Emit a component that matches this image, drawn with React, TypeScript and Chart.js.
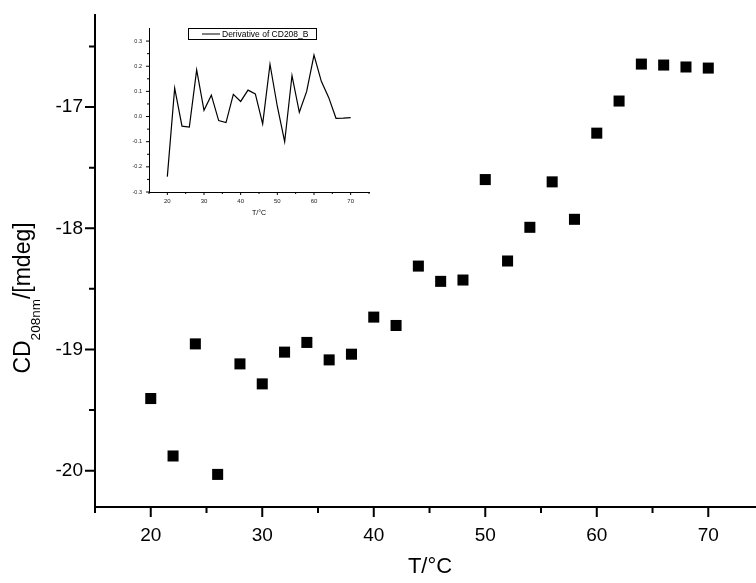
import React, { useEffect, useRef } from "react";
import { Chart, registerables } from "chart.js";

Chart.register(...registerables);

// ---------- data ----------
const TEMPS = [20, 22, 24, 26, 28, 30, 32, 34, 36, 38, 40, 42, 44, 46, 48, 50, 52, 54, 56, 58, 60, 62, 64, 66, 68, 70];
const CD208 = [
  -19.405, -19.879, -18.954, -20.031, -19.119, -19.284, -19.022, -18.942, -19.086, -19.039,
  -18.733, -18.802, -18.312, -18.438, -18.427, -17.598, -18.27, -17.992, -17.617, -17.926,
  -17.215, -16.95, -16.645, -16.653, -16.669, -16.678,
];
const DERIV = [
  -0.239, 0.113, -0.038, -0.042, 0.185, 0.025, 0.085, -0.016, -0.024, 0.088,
  0.06, 0.105, 0.09, -0.029, 0.208, 0.04, -0.1, 0.163, 0.017, 0.1,
  0.244, 0.14, 0.076, -0.007, -0.006, -0.004,
];
const DERIV_LABEL = "Derivative of CD208_B";

const MAIN_X_TICKS = [20, 30, 40, 50, 60, 70];
const MAIN_X_MINOR = [15, 25, 35, 45, 55, 65];
const MAIN_Y_TICKS = [-20, -19, -18, -17];
const MAIN_Y_MINOR = [-19.5, -18.5, -17.5, -16.5];

const INSET_X_TICKS = [20, 30, 40, 50, 60, 70];
const INSET_X_MINOR = [15, 25, 35, 45, 55, 65, 75];
const INSET_Y_TICKS = [-0.3, -0.2, -0.1, 0, 0.1, 0.2, 0.3];
const INSET_Y_MINOR = [-0.25, -0.15, -0.05, 0.05, 0.15, 0.25];

const FONT = '"Liberation Sans", Arial, sans-serif';

function drawTicks(chart: any, xMajor: number[], xMinor: number[], yMajor: number[], yMinor: number[], majLen: number, minLen: number, width: number) {
  const { ctx, chartArea } = chart;
  const xs = chart.scales.x;
  const ys = chart.scales.y;
  ctx.save();
  ctx.strokeStyle = "#000";
  ctx.lineWidth = width;
  ctx.beginPath();
  const xl = (vals: number[], len: number) => {
    vals.forEach((v) => {
      const p = xs.getPixelForValue(v);
      if (p < chartArea.left - 1 || p > chart.width) return;
      ctx.moveTo(p, chartArea.bottom);
      ctx.lineTo(p, chartArea.bottom + len);
    });
  };
  const yl = (vals: number[], len: number) => {
    vals.forEach((v) => {
      const p = ys.getPixelForValue(v);
      if (p < chartArea.top - 1 || p > chartArea.bottom + 1) return;
      ctx.moveTo(chartArea.left, p);
      ctx.lineTo(chartArea.left - len, p);
    });
  };
  xl(xMajor, majLen);
  xl(xMinor, minLen);
  yl(yMajor, majLen);
  yl(yMinor, minLen);
  ctx.stroke();
  ctx.restore();
}

const mainDecor = {
  id: "mainDecor",
  afterDraw(chart: any) {
    drawTicks(chart, MAIN_X_TICKS, MAIN_X_MINOR, MAIN_Y_TICKS, MAIN_Y_MINOR, 10, 6, 2);
    const { ctx } = chart;
    ctx.save();
    ctx.fillStyle = "#000";
    // x title
    ctx.font = `22px ${FONT}`;
    ctx.textAlign = "center";
    ctx.textBaseline = "alphabetic";
    ctx.fillText("T/°C", 430, 573);
    // y title with subscript
    ctx.translate(30, 298);
    ctx.rotate(-Math.PI / 2);
    ctx.textAlign = "left";
    const big = `23px ${FONT}`;
    const small = `13.5px ${FONT}`;
    ctx.font = big;
    const w1 = ctx.measureText("CD").width;
    const w3 = ctx.measureText("/[mdeg]").width;
    ctx.font = small;
    const w2 = ctx.measureText("208nm").width;
    let x = -(w1 + w2 + w3) / 2;
    ctx.font = big;
    ctx.fillText("CD", x, 0);
    x += w1;
    ctx.font = small;
    ctx.fillText("208nm", x, 10);
    x += w2;
    ctx.font = big;
    ctx.fillText("/[mdeg]", x, 0);
    ctx.restore();
  },
};

const insetDecor = {
  id: "insetDecor",
  afterDraw(chart: any) {
    drawTicks(chart, INSET_X_TICKS, INSET_X_MINOR, INSET_Y_TICKS, INSET_Y_MINOR, 3, 2, 1);
    const { ctx } = chart;
    ctx.save();
    ctx.fillStyle = "#000";
    ctx.font = `7px ${FONT}`;
    ctx.textAlign = "center";
    ctx.textBaseline = "alphabetic";
    ctx.fillText("T/°C", (chart.chartArea.left + chart.chartArea.right) / 2, 205);
    // legend box
    ctx.strokeStyle = "#000";
    ctx.lineWidth = 1;
    ctx.strokeRect(88.5, 18.5, 128, 11);
    ctx.beginPath();
    ctx.moveTo(102, 24);
    ctx.lineTo(120, 24);
    ctx.stroke();
    ctx.font = `8.5px ${FONT}`;
    ctx.textAlign = "left";
    ctx.textBaseline = "middle";
    ctx.fillText(chart.data.datasets[0].label, 122, 24.5);
    ctx.restore();
  },
};

const zeroPadX = (h: number) => (s: any) => {
  s.height = h;
  s.paddingLeft = 0;
  s.paddingRight = 0;
};
const zeroPadY = (w: number) => (s: any) => {
  s.width = w;
  s.paddingTop = 0;
  s.paddingBottom = 0;
};

export default function App() {
  const mainRef = useRef<HTMLCanvasElement>(null);
  const insetRef = useRef<HTMLCanvasElement>(null);

  useEffect(() => {
    const main = new Chart(mainRef.current as HTMLCanvasElement, {
      type: "scatter",
      data: {
        datasets: [
          {
            label: "CD208",
            data: TEMPS.map((t, i) => ({ x: t, y: CD208[i] })),
            pointStyle: "rect",
            pointRadius: 7.8,
            pointHoverRadius: 7.8,
            backgroundColor: "#000",
            borderColor: "#000",
            borderWidth: 0,
            showLine: false,
          },
        ],
      },
      options: {
        responsive: false,
        animation: false,
        events: [],
        layout: { autoPadding: false, padding: { top: 15, left: 0, right: 0, bottom: 0 } },
        plugins: { legend: { display: false }, tooltip: { enabled: false } },
        scales: {
          x: {
            type: "linear",
            position: "bottom",
            min: 15,
            max: 74.28,
            grid: { display: false, drawTicks: false },
            border: { display: true, color: "#000", width: 2 },
            ticks: { color: "#000", font: { family: FONT, size: 19 }, padding: 17, maxRotation: 0 },
            afterBuildTicks: (s: any) => {
              s.ticks = MAIN_X_TICKS.map((v) => ({ value: v }));
            },
            afterFit: zeroPadX(76),
          },
          y: {
            type: "linear",
            position: "left",
            min: -20.3,
            max: -16.24,
            grid: { display: false, drawTicks: false },
            border: { display: true, color: "#000", width: 2 },
            ticks: { color: "#000", font: { family: FONT, size: 19 }, padding: 12 },
            afterBuildTicks: (s: any) => {
              s.ticks = MAIN_Y_TICKS.map((v) => ({ value: v }));
            },
            afterFit: zeroPadY(95),
          },
        },
      },
      plugins: [mainDecor],
    });

    const inset = new Chart(insetRef.current as HTMLCanvasElement, {
      type: "scatter",
      data: {
        datasets: [
          {
            label: DERIV_LABEL,
            data: TEMPS.map((t, i) => ({ x: t, y: DERIV[i] })),
            showLine: true,
            borderColor: "#000",
            borderWidth: 1.2,
            pointRadius: 0,
            pointHoverRadius: 0,
            fill: false,
            tension: 0,
          },
        ],
      },
      options: {
        responsive: false,
        animation: false,
        events: [],
        layout: { autoPadding: false, padding: { top: 18, left: 0, right: 11, bottom: 0 } },
        plugins: { legend: { display: false }, tooltip: { enabled: false } },
        scales: {
          x: {
            type: "linear",
            min: 15,
            max: 75,
            grid: { display: false, drawTicks: false },
            border: { display: true, color: "#000", width: 1 },
            ticks: { color: "#222", font: { family: FONT, size: 6 }, padding: 6, maxRotation: 0 },
            afterBuildTicks: (s: any) => {
              s.ticks = INSET_X_TICKS.map((v) => ({ value: v }));
            },
            afterFit: zeroPadX(33),
          },
          y: {
            type: "linear",
            min: -0.3,
            max: 0.352,
            grid: { display: false, drawTicks: false },
            border: { display: true, color: "#000", width: 1 },
            ticks: {
              color: "#222",
              font: { family: FONT, size: 5.5 },
              padding: 7,
              callback: (v: any) => Number(v).toFixed(1),
            },
            afterBuildTicks: (s: any) => {
              s.ticks = INSET_Y_TICKS.map((v) => ({ value: v }));
            },
            afterFit: zeroPadY(49),
          },
        },
      },
      plugins: [insetDecor],
    });

    return () => {
      main.destroy();
      inset.destroy();
    };
  }, []);

  return (
    <div style={{ position: "absolute", left: 0, top: 0, width: 756, height: 583, background: "#fff", overflow: "hidden" }}>
      <canvas ref={mainRef} width={756} height={583} style={{ position: "absolute", left: 0, top: 0, display: "block" }} />
      <canvas ref={insetRef} width={280} height={215} style={{ position: "absolute", left: 100, top: 10, display: "block" }} />
    </div>
  );
}
